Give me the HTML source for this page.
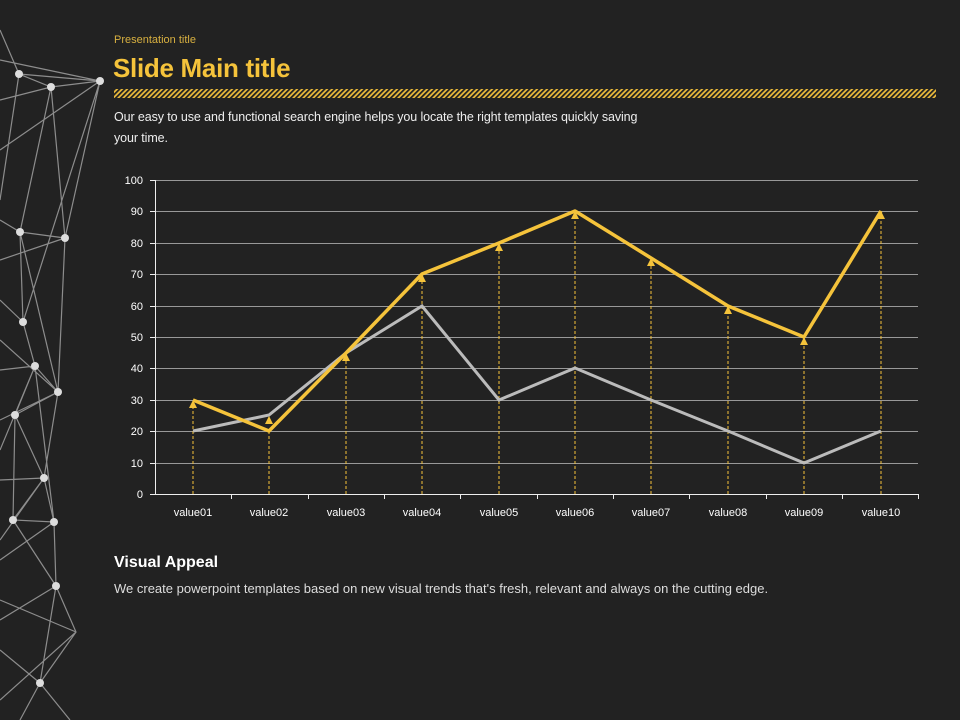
<!DOCTYPE html>
<html><head><meta charset="utf-8"><style>
body{margin:0;width:960px;height:720px;background:#222;overflow:hidden;font-family:"Liberation Sans",sans-serif;position:relative}
.t{position:absolute;color:#f5c33b}
</style></head><body>
<svg width="960" height="720" style="position:absolute;left:0;top:0">
<defs><pattern id="h" width="5" height="8" patternUnits="userSpaceOnUse" patternTransform="skewX(-45)"><rect width="2.5" height="8" fill="#e8b83a"/></pattern></defs>
<g stroke="#bbb" stroke-width="1.2" opacity="0.7" fill="none">
<path d="M0,30L19,74L51,87L100,81L19,74M0,60L100,81M51,87L20,232L65,238L51,87M100,81L65,238M100,81L23,322M19,74L0,200M20,232L23,322L35,366L58,392L65,238M20,232L58,392M0,260L65,238M0,300L23,322M35,366L15,415L44,478L58,392M15,415L58,392M0,420L58,392M44,478L13,520L54,522L44,478M54,522L56,586L76,632L40,683L56,586M13,520L56,586M0,560L54,522M0,600L76,632M40,683L20,720M40,683L70,720M0,650L40,683M15,415L13,520M35,366L54,522M0,370L35,366M0,480L44,478M0,100L51,87M0,150L100,81M0,220L20,232M0,340L58,392M0,450L35,366M0,540L44,478M0,620L56,586M0,700L76,632"/>
</g>
<g fill="#ddd">
<circle cx="19" cy="74" r="4"/><circle cx="51" cy="87" r="4"/><circle cx="100" cy="81" r="4"/><circle cx="20" cy="232" r="4"/><circle cx="65" cy="238" r="4"/><circle cx="23" cy="322" r="4"/><circle cx="35" cy="366" r="4"/><circle cx="58" cy="392" r="4"/><circle cx="15" cy="415" r="4"/><circle cx="44" cy="478" r="4"/><circle cx="13" cy="520" r="4"/><circle cx="54" cy="522" r="4"/><circle cx="56" cy="586" r="4"/><circle cx="40" cy="683" r="4"/>
</g>
<rect x="114" y="89" width="822" height="9" fill="url(#h)"/>
<g stroke="#999" stroke-width="1">
<line x1="155" x2="918" y1="180.5" y2="180.5"/><line x1="155" x2="918" y1="211.5" y2="211.5"/><line x1="155" x2="918" y1="243.5" y2="243.5"/><line x1="155" x2="918" y1="274.5" y2="274.5"/><line x1="155" x2="918" y1="306.5" y2="306.5"/><line x1="155" x2="918" y1="337.5" y2="337.5"/><line x1="155" x2="918" y1="368.5" y2="368.5"/><line x1="155" x2="918" y1="400.5" y2="400.5"/><line x1="155" x2="918" y1="431.5" y2="431.5"/><line x1="155" x2="918" y1="463.5" y2="463.5"/>
</g>
<g stroke="#eee" stroke-width="1">
<line x1="155.5" y1="180" x2="155.5" y2="494"/><line x1="155" y1="494.5" x2="918" y2="494.5"/>
<path d="M150,180.5h5M150,211.5h5M150,243.5h5M150,274.5h5M150,306.5h5M150,337.5h5M150,368.5h5M150,400.5h5M150,431.5h5M150,463.5h5M150,494.5h5M231.5,494v5M308.5,494v5M384.5,494v5M460.5,494v5M537.5,494v5M613.5,494v5M689.5,494v5M766.5,494v5M842.5,494v5M918.5,494v5"/>
</g>
<g fill="#fff" font-size="11" text-anchor="end">
<text x="143" y="184">100</text><text x="143" y="215">90</text><text x="143" y="247">80</text><text x="143" y="278">70</text><text x="143" y="310">60</text><text x="143" y="341">50</text><text x="143" y="372">40</text><text x="143" y="404">30</text><text x="143" y="435">20</text><text x="143" y="467">10</text><text x="143" y="498">0</text>
</g>
<g fill="#fff" font-size="11" text-anchor="middle">
<text x="193" y="516">value01</text><text x="269" y="516">value02</text><text x="346" y="516">value03</text><text x="422" y="516">value04</text><text x="499" y="516">value05</text><text x="575" y="516">value06</text><text x="651" y="516">value07</text><text x="728" y="516">value08</text><text x="804" y="516">value09</text><text x="881" y="516">value10</text>
</g>
<g stroke="#f5c33b" stroke-dasharray="3,2" stroke-width="1">
<line x1="193" x2="193" y1="494" y2="400"/><line x1="269" x2="269" y1="494" y2="431"/><line x1="346" x2="346" y1="494" y2="353"/><line x1="422" x2="422" y1="494" y2="274"/><line x1="499" x2="499" y1="494" y2="243"/><line x1="575" x2="575" y1="494" y2="211"/><line x1="651" x2="651" y1="494" y2="258"/><line x1="728" x2="728" y1="494" y2="306"/><line x1="804" x2="804" y1="494" y2="337"/><line x1="881" x2="881" y1="494" y2="211"/>
</g>
<polyline fill="none" stroke="#bbb" stroke-width="3" points="193,431 269,415 346,353 422,306 499,400 575,368 651,400 728,431 804,463 881,431"/>
<polyline fill="none" stroke="#f5c33b" stroke-width="3.5" stroke-linejoin="round" points="193,400 269,431 346,353 422,274 499,243 575,211 651,258 728,306 804,337 881,211"/>
<g fill="#f5c33b">
<path d="M193,400l-4,8h8z"/><path d="M269,416l-4,8h8z"/><path d="M346,353l-4,8h8z"/><path d="M422,274l-4,8h8z"/><path d="M499,243l-4,8h8z"/><path d="M575,211l-4,8h8z"/><path d="M651,258l-4,8h8z"/><path d="M728,306l-4,8h8z"/><path d="M804,337l-4,8h8z"/><path d="M881,211l-4,8h8z"/>
</g>
</svg>
<div class="t" style="left:114px;top:34px;font-size:11px;color:#d8b040">Presentation title</div>
<div class="t" style="left:113px;top:53px;font-size:26px;font-weight:bold;letter-spacing:-0.3px">Slide Main title</div>
<div class="t" style="left:114px;top:107px;font-size:12.5px;color:#eee;line-height:21px;width:620px;letter-spacing:-0.1px">Our easy to use and functional search engine helps you locate the right templates quickly saving<br>your time.</div>
<div class="t" style="left:114px;top:554px;font-size:16px;font-weight:bold;color:#fff">Visual Appeal</div>
<div class="t" style="left:114px;top:581px;font-size:13px;color:#ddd">We create powerpoint templates based on new visual trends that's fresh, relevant and always on the cutting edge.</div>
</body></html>
